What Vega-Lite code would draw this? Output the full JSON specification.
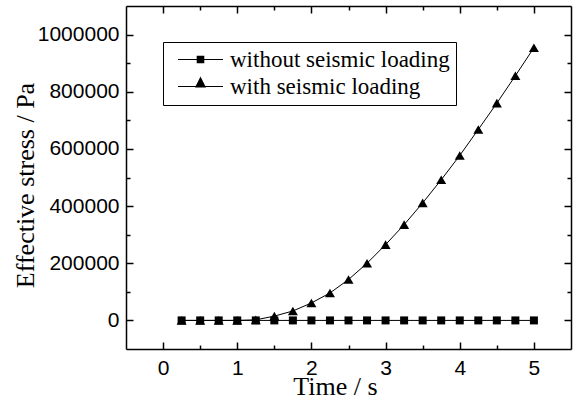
{
  "$schema": "https://vega.github.io/schema/vega-lite/v6.json",
  "autosize": "none",
  "width": 445,
  "height": 343,
  "padding": {"left": 126, "top": 6, "right": 3, "bottom": 50},
  "background": "white",
  "config": {"view": {"stroke": null}},
  "data": {"values": [
    {"t": 0.25, "stress": 0, "series": "without seismic loading"},
    {"t": 0.5, "stress": 0, "series": "without seismic loading"},
    {"t": 0.75, "stress": 0, "series": "without seismic loading"},
    {"t": 1.0, "stress": 0, "series": "without seismic loading"},
    {"t": 1.25, "stress": 0, "series": "without seismic loading"},
    {"t": 1.5, "stress": 0, "series": "without seismic loading"},
    {"t": 1.75, "stress": 0, "series": "without seismic loading"},
    {"t": 2.0, "stress": 0, "series": "without seismic loading"},
    {"t": 2.25, "stress": 0, "series": "without seismic loading"},
    {"t": 2.5, "stress": 0, "series": "without seismic loading"},
    {"t": 2.75, "stress": 0, "series": "without seismic loading"},
    {"t": 3.0, "stress": 0, "series": "without seismic loading"},
    {"t": 3.25, "stress": 0, "series": "without seismic loading"},
    {"t": 3.5, "stress": 0, "series": "without seismic loading"},
    {"t": 3.75, "stress": 0, "series": "without seismic loading"},
    {"t": 4.0, "stress": 0, "series": "without seismic loading"},
    {"t": 4.25, "stress": 0, "series": "without seismic loading"},
    {"t": 4.5, "stress": 0, "series": "without seismic loading"},
    {"t": 4.75, "stress": 0, "series": "without seismic loading"},
    {"t": 5.0, "stress": 0, "series": "without seismic loading"},
    {"t": 0.25, "stress": 0, "series": "with seismic loading"},
    {"t": 0.5, "stress": 0, "series": "with seismic loading"},
    {"t": 0.75, "stress": 0, "series": "with seismic loading"},
    {"t": 1.0, "stress": 0, "series": "with seismic loading"},
    {"t": 1.25, "stress": 2000, "series": "with seismic loading"},
    {"t": 1.5, "stress": 15000, "series": "with seismic loading"},
    {"t": 1.75, "stress": 33000, "series": "with seismic loading"},
    {"t": 2.0, "stress": 61000, "series": "with seismic loading"},
    {"t": 2.25, "stress": 96000, "series": "with seismic loading"},
    {"t": 2.5, "stress": 143000, "series": "with seismic loading"},
    {"t": 2.75, "stress": 200000, "series": "with seismic loading"},
    {"t": 3.0, "stress": 265000, "series": "with seismic loading"},
    {"t": 3.25, "stress": 335000, "series": "with seismic loading"},
    {"t": 3.5, "stress": 411000, "series": "with seismic loading"},
    {"t": 3.75, "stress": 492000, "series": "with seismic loading"},
    {"t": 4.0, "stress": 577000, "series": "with seismic loading"},
    {"t": 4.25, "stress": 668000, "series": "with seismic loading"},
    {"t": 4.5, "stress": 760000, "series": "with seismic loading"},
    {"t": 4.75, "stress": 856000, "series": "with seismic loading"},
    {"t": 5.0, "stress": 954000, "series": "with seismic loading"}
  ]},
  "layer": [
    {
      "mark": {"type": "line", "stroke": "black", "strokeWidth": 1},
      "encoding": {
        "x": {"field": "t", "type": "quantitative",
          "scale": {"domain": [-0.5, 5.5], "nice": false, "zero": false},
          "axis": {
            "orient": "bottom",
            "values": [0, 0.5, 1, 1.5, 2, 2.5, 3, 3.5, 4, 4.5, 5],
            "labelExpr": "datum.value % 1 === 0 ? format(datum.value, 'd') : ''",
            "tickSize": {"condition": {"test": "datum.value % 1 === 0", "value": -7}, "value": -4},
            "tickColor": "black", "tickWidth": 1.5,
            "domainColor": "black", "domainWidth": 1.5,
            "grid": false,
            "labelFont": "Liberation Sans", "labelFontSize": 21, "labelColor": "black",
            "labelPadding": 15, "labelOverlap": false, "labelFlush": false,
            "title": "Time / s", "titleFont": "Liberation Serif", "titleFontSize": 26,
            "titleFontWeight": "normal", "titleColor": "black",
            "titleX": 209, "titleY": 45, "titleBaseline": "alphabetic", "titleAlign": "center"
          }
        },
        "y": {"field": "stress", "type": "quantitative",
          "scale": {"domain": [-100000, 1100000], "nice": false, "zero": false},
          "axis": {
            "orient": "left",
            "values": [0, 100000, 200000, 300000, 400000, 500000, 600000, 700000, 800000, 900000, 1000000],
            "labelExpr": "datum.value % 200000 === 0 ? format(datum.value, 'd') : ''",
            "tickSize": {"condition": {"test": "datum.value % 200000 === 0", "value": -7}, "value": -4},
            "tickColor": "black", "tickWidth": 1.5,
            "domainColor": "black", "domainWidth": 1.5,
            "grid": false,
            "labelFont": "Liberation Sans", "labelFontSize": 21, "labelColor": "black",
            "labelPadding": 14, "labelOverlap": false, "labelFlush": false,
            "title": "Effective stress / Pa", "titleFont": "Liberation Serif", "titleFontSize": 26,
            "titleFontWeight": "normal", "titleColor": "black",
            "titleX": -93, "titleY": 179, "titleAngle": -90,
            "titleBaseline": "alphabetic", "titleAlign": "center"
          }
        },
        "detail": {"field": "series"}
      }
    },
    {
      "mark": {"type": "point", "filled": true, "fill": "black", "opacity": 1, "strokeWidth": 0},
      "encoding": {
        "x": {"field": "t", "type": "quantitative",
          "axis": {
            "orient": "top",
            "values": [0, 0.5, 1, 1.5, 2, 2.5, 3, 3.5, 4, 4.5, 5],
            "labels": false,
            "tickSize": {"condition": {"test": "datum.value % 1 === 0", "value": -7}, "value": -4},
            "tickColor": "black", "tickWidth": 1.5,
            "domainColor": "black", "domainWidth": 1.5,
            "grid": false, "title": null
          }
        },
        "y": {"field": "stress", "type": "quantitative",
          "axis": {
            "orient": "right",
            "values": [0, 100000, 200000, 300000, 400000, 500000, 600000, 700000, 800000, 900000, 1000000],
            "labels": false,
            "tickSize": {"condition": {"test": "datum.value % 200000 === 0", "value": -7}, "value": -4},
            "tickColor": "black", "tickWidth": 1.5,
            "domainColor": "black", "domainWidth": 1.5,
            "grid": false, "title": null
          }
        },
        "shape": {"field": "series", "type": "nominal",
          "scale": {"domain": ["without seismic loading", "with seismic loading"], "range": ["square", "triangle-up"]},
          "legend": null},
        "size": {"field": "series", "type": "nominal",
          "scale": {"domain": ["without seismic loading", "with seismic loading"], "range": [64, 100]},
          "legend": null}
      }
    },
    {
      "mark": {"type": "point", "filled": true, "fill": "black", "opacity": 0, "size": 400},
      "encoding": {
        "x": {"field": "t", "type": "quantitative", "axis": null},
        "y": {"field": "stress", "type": "quantitative", "axis": null},
        "shape": {"field": "series", "type": "nominal",
          "scale": {"domain": ["without seismic loading", "with seismic loading"],
            "range": ["M-2.25,-0.05H2.25V0.05H-2.25ZM-0.38,-0.38H0.38V0.38H-0.38Z", "M-2.25,-0.05H2.25V0.05H-2.25ZM0,-1.0L0.55,0.1H-0.55Z"]},
          "legend": {
            "orient": "none", "legendX": 37, "legendY": 36,
            "title": null,
            "strokeColor": "black", "fillColor": "white", "padding": 6,
            "labelFont": "Liberation Serif", "labelFontSize": 23, "labelColor": "black",
            "labelLimit": 500, "labelOffset": 18, "symbolOffset": 20,
            "symbolFillColor": "black", "symbolStrokeColor": "black", "symbolStrokeWidth": 0,
            "symbolOpacity": 1, "symbolSize": 400, "rowPadding": 3
          }
        }
      }
    }
  ],
  "resolve": {
    "scale": {"shape": "independent", "size": "independent"},
    "axis": {"x": "independent", "y": "independent"}
  }
}
